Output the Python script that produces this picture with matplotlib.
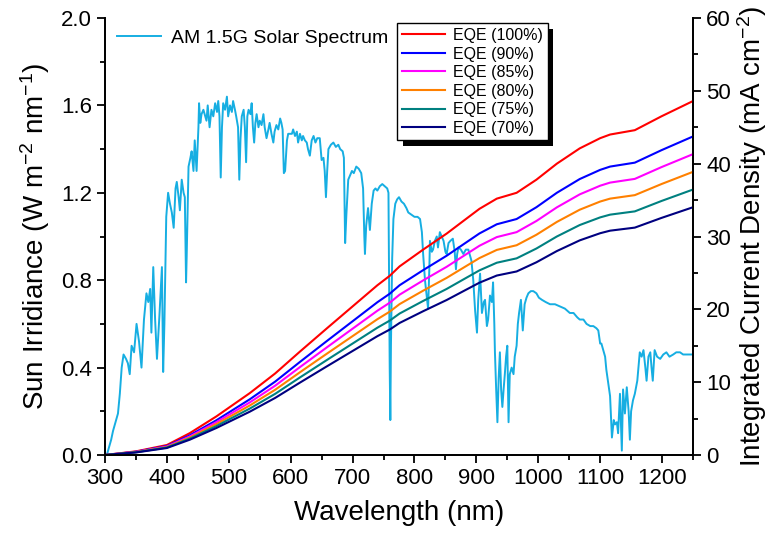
import matplotlib
matplotlib.use('Agg')
import matplotlib.pyplot as plt
import matplotlib.patheffects as pe
import numpy as np

plt.rcParams['font.family'] = ['Liberation Sans', 'DejaVu Sans']
plt.rcParams['mathtext.fontset'] = 'custom'
plt.rcParams['mathtext.rm'] = 'Liberation Sans'
plt.rcParams['mathtext.default'] = 'regular'

# AM 1.5G spectrum
wl = [300, 303, 306, 310, 313, 317, 321, 324, 327, 330, 334, 337, 340, 343, 347, 351, 355, 359, 363, 367,
      370, 373, 375, 378, 381, 384, 388, 392, 394, 396, 399, 402, 405, 408, 411, 414, 416, 419, 421, 424,
      427, 429, 431, 432, 435, 438, 440, 443, 445, 448, 451, 452, 454, 456, 459, 462, 464, 466, 469, 472,
      475, 478, 481, 483, 485, 487, 489, 491, 494, 497, 499, 502, 505, 507, 510, 512, 515, 517, 519, 521,
      524, 526, 528, 530, 532, 535, 537, 539, 541, 543, 545, 548, 550, 553, 556, 558, 561, 564, 566, 569,
      572, 574, 577, 580, 583, 585, 587, 589, 591, 594, 596, 599, 602, 604, 607, 610, 612, 615, 618, 620,
      623, 626, 628, 631, 634, 637, 640, 643, 647, 650, 653, 655, 657, 659, 661, 665, 669, 673, 677, 680,
      684, 686, 688, 690, 693, 696, 699, 702, 706, 710, 714, 717, 719, 720, 722, 725, 728, 731, 734, 737,
      740, 744, 748, 752, 756, 758, 760, 761, 762, 764, 766, 769, 772, 775, 779, 783, 787, 790, 795, 800,
      805, 809, 812, 814, 817, 820, 822, 824, 825, 828, 830, 833, 836, 838, 841, 844, 847, 850, 852, 855,
      858, 862, 865, 867, 869, 871, 875, 879, 883, 887, 890, 892, 895, 898, 901, 903, 906, 909, 912, 914,
      917, 919, 922, 925, 927, 929, 930, 932, 934, 936, 938, 940, 942, 944, 946, 948, 950, 952, 954, 957,
      960, 962, 965, 967, 969, 972, 975, 978, 981, 984, 988, 992, 997, 1001, 1006, 1012, 1019, 1027, 1035, 1043,
      1051, 1057, 1063, 1067, 1073, 1078, 1084, 1089, 1094, 1097, 1100, 1102, 1105, 1108, 1110, 1113, 1116, 1119, 1122, 1124,
      1127, 1129, 1132, 1135, 1137, 1140, 1143, 1146, 1148, 1150, 1153, 1156, 1160, 1164, 1167, 1170, 1173, 1175, 1178, 1181,
      1183, 1185, 1188, 1192, 1197, 1202, 1207, 1212, 1218, 1223, 1229, 1234, 1240, 1245, 1250]
irr = [0.0, 0.0, 0.03, 0.07, 0.11, 0.15, 0.19, 0.28, 0.40, 0.46, 0.44, 0.42, 0.37, 0.50, 0.47, 0.60, 0.52, 0.40, 0.62, 0.74,
       0.70, 0.76, 0.56, 0.86, 0.62, 0.44, 0.64, 0.86, 0.38, 0.60, 1.09, 1.20, 1.15, 1.11, 1.04, 1.22, 1.25, 1.18, 1.12, 1.26,
       1.20, 1.18, 0.79, 0.91, 1.32, 1.36, 1.39, 1.30, 1.44, 1.30, 1.50, 1.61, 1.52, 1.56, 1.58, 1.55, 1.53, 1.60, 1.50, 1.58,
       1.55, 1.61, 1.57, 1.62, 1.55, 1.27, 1.50, 1.61, 1.58, 1.64, 1.55, 1.60, 1.57, 1.62, 1.58, 1.55, 1.50, 1.26, 1.45, 1.55,
       1.58, 1.50, 1.34, 1.55, 1.58, 1.56, 1.61, 1.50, 1.43, 1.52, 1.56, 1.50, 1.53, 1.51, 1.56, 1.50, 1.45, 1.49, 1.52, 1.47,
       1.43, 1.48, 1.51, 1.49, 1.54, 1.52, 1.49, 1.29, 1.30, 1.44, 1.47, 1.47, 1.47, 1.49, 1.46, 1.48, 1.43, 1.47, 1.44, 1.46,
       1.44, 1.43, 1.40, 1.37, 1.44, 1.46, 1.43, 1.45, 1.45, 1.35, 1.36, 1.30, 1.18, 1.30, 1.40, 1.42, 1.43, 1.41, 1.42, 1.40,
       1.39, 1.36, 0.97, 1.10, 1.26, 1.28, 1.30, 1.29, 1.32, 1.31, 1.29, 1.22, 1.00, 0.92, 1.05, 1.13, 1.03, 1.15, 1.21, 1.22,
       1.21, 1.23, 1.24, 1.23, 1.22, 1.20, 0.40, 0.16, 0.50, 0.90, 1.08, 1.15, 1.17, 1.18, 1.16, 1.15, 1.13, 1.11, 1.10, 1.09,
       1.09, 1.08, 1.02, 0.92, 0.80, 0.72, 0.67, 0.85, 0.98, 0.93, 0.94, 0.98, 1.00, 0.95, 1.02, 1.00, 0.98, 0.93, 0.92, 0.97,
       0.98, 0.99, 0.93, 0.85, 0.92, 0.95, 0.94, 0.92, 0.94, 0.94, 0.91, 0.89, 0.80, 0.66, 0.56, 0.71, 0.83, 0.65, 0.70, 0.71,
       0.59, 0.62, 0.73, 0.70, 0.79, 0.60, 0.47, 0.30, 0.15, 0.35, 0.47, 0.30, 0.22, 0.30, 0.37, 0.45, 0.50, 0.15, 0.37, 0.40,
       0.37, 0.45, 0.50, 0.60, 0.65, 0.71, 0.57, 0.69, 0.72, 0.74, 0.75, 0.75, 0.74, 0.72, 0.71, 0.70, 0.69, 0.69, 0.68, 0.67,
       0.65, 0.65, 0.63, 0.62, 0.62, 0.60, 0.59, 0.59, 0.58, 0.57, 0.51, 0.51, 0.48, 0.45, 0.39, 0.33, 0.27, 0.08, 0.16, 0.14,
       0.15, 0.10, 0.28, 0.02, 0.30, 0.19, 0.31, 0.20, 0.07, 0.20, 0.25, 0.28, 0.34, 0.47, 0.45, 0.48, 0.40, 0.34, 0.45, 0.47,
       0.40, 0.34, 0.48, 0.45, 0.44, 0.46, 0.47, 0.45, 0.46, 0.47, 0.47, 0.46, 0.46, 0.46, 0.46]

# integrated current density at EQE = 100 % (mA cm-2)
jwl = [300, 350, 400, 437, 480, 534, 575, 615, 660, 700, 740, 760, 776, 814, 852, 880, 905, 933,
       965, 997, 1030, 1067, 1100, 1116, 1156, 1199, 1250]
j100 = [0.0, 0.5, 1.37, 3.0, 5.3, 8.5, 11.2, 14.2, 17.5, 20.4, 23.3, 24.6, 25.9, 28.2, 30.4, 32.2, 33.8, 35.2,
        36.0, 37.8, 40.0, 42.1, 43.5, 44.0, 44.6, 46.5, 48.6]

eqe = [100, 90, 85, 80, 75, 70]
eqe_colors = ['#FF0000', '#0000FF', '#FF00FF', '#FF8000', '#008080', '#000080']

fig = plt.figure(figsize=(7.77, 5.44), dpi=100)
ax1 = fig.add_axes([0.1351, 0.1636, 0.7568, 0.8033])
ax2 = ax1.twinx()

sp, = ax1.plot(wl, irr, color='#16AEE2', lw=1.4, label='AM 1.5G Solar Spectrum')
for e, c in zip(eqe, eqe_colors):
    ax2.plot(jwl, np.array(j100) * e / 100.0, color=c, lw=1.5, label='EQE (' + str(e) + '%)')

ax1.set_xlim(300, 1250)
ax1.set_ylim(0, 2.0)
ax2.set_ylim(0, 60)
ax1.set_xticks(np.arange(300, 1201, 100))
ax1.set_xticks(np.arange(300, 1251, 50), minor=True)
ax1.set_yticks(np.arange(0, 2.01, 0.4))
ax1.set_yticks(np.arange(0, 2.01, 0.2), minor=True)
ax1.set_yticklabels(['%.1f' % v for v in np.arange(0, 2.01, 0.4)])
ax2.set_yticks(np.arange(0, 61, 10))
ax2.set_yticks(np.arange(0, 61, 5), minor=True)

for ax in (ax1, ax2):
    ax.spines['top'].set_visible(False)
    for s in ax.spines.values():
        s.set_linewidth(1.3)
    ax.tick_params(which='major', direction='out', length=6, width=1.3, labelsize=16)
    ax.tick_params(which='minor', direction='out', length=3.5, width=1.3)

ax1.set_xlabel('Wavelength (nm)', fontsize=20, labelpad=8)
ax1.set_ylabel('Sun Irridiance (W m$^{-2}$ nm$^{-1}$)', fontsize=20, labelpad=6)
ax2.set_ylabel('Integrated Current Density (mA cm$^{-2}$)', fontsize=20, labelpad=3)

leg1 = ax1.legend(loc='upper left', frameon=False, fontsize=14, handlelength=2.3,
                  borderaxespad=0.2, handletextpad=0.5, bbox_to_anchor=(0.0, 1.0))
leg2 = ax2.legend(loc='upper left', bbox_to_anchor=(0.497, 0.988), fontsize=11.5, fancybox=False,
                  edgecolor='black', framealpha=1, labelspacing=0.22, handlelength=2.7,
                  handletextpad=0.5, borderpad=0.3, borderaxespad=0.0)
leg2.get_frame().set_linewidth(1.0)
leg2.get_frame().set_path_effects([pe.SimplePatchShadow(offset=(4, -4), shadow_rgbFace='k', alpha=1.0),
                                   pe.Normal()])

fig.savefig('out.png', dpi=100)
